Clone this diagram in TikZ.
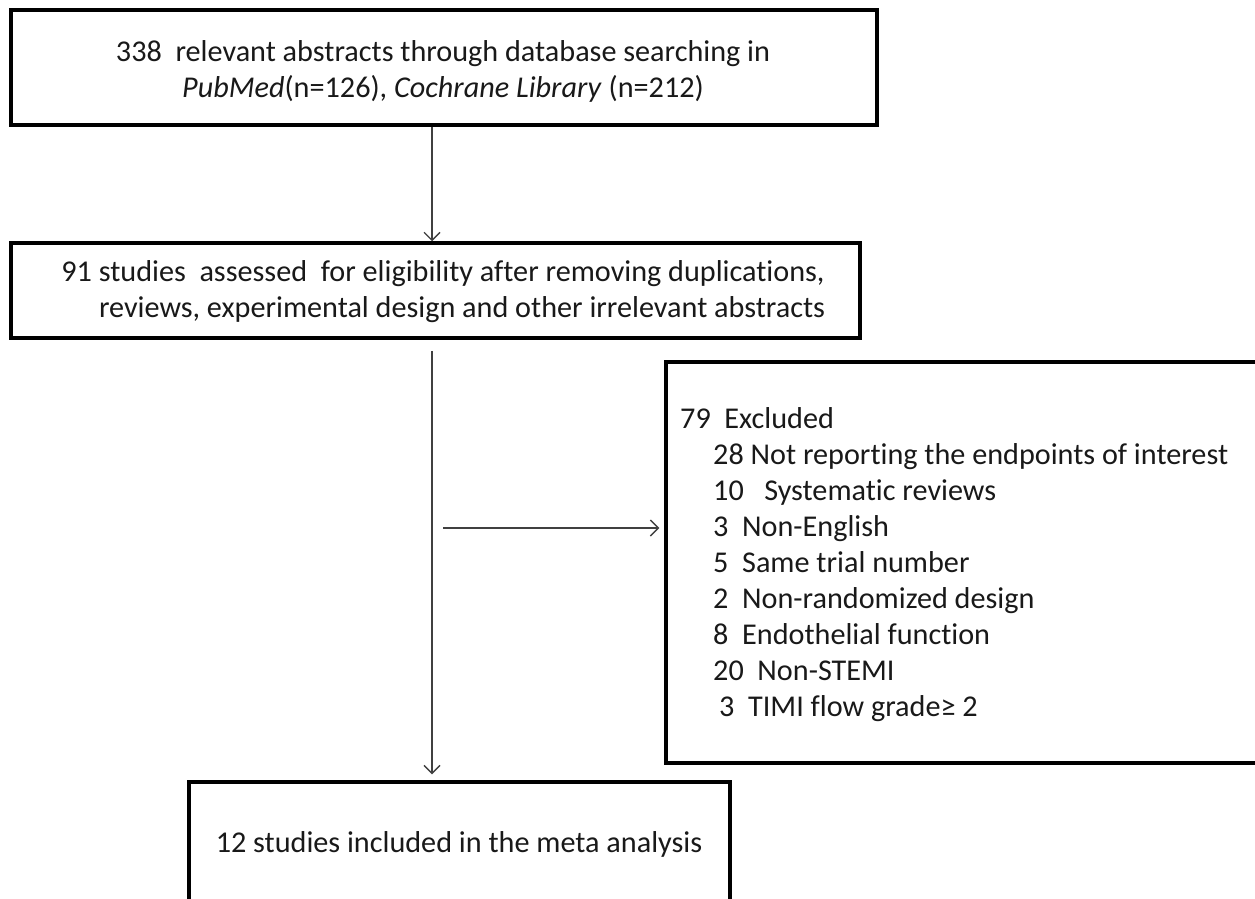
\documentclass[tikz,border=0pt]{standalone}
\usepackage{fontspec}
\setmainfont[Ligatures=NoCommon]{Carlito}
\usetikzlibrary{arrows.meta}
\begin{document}
\begin{tikzpicture}[x=1pt,y=-1pt,
  box/.style={draw=black,line width=3.5pt,fill=white,inner sep=0pt,anchor=center},
  txt/.style={inner sep=0pt,font=\fontsize{30.2}{36}\selectfont,text=black!90},
  arr/.style={draw=black!75,line width=1.4pt,-{Straight Barb[length=8pt,width=16pt,line width=1.4pt]}}]
\useasboundingbox (0,0) rectangle (1255,899);
\clip (0,0) rectangle (1255,899);
\fill[white] (0,0) rectangle (1255,899);
% boxes
\node[box,minimum width=866pt,minimum height=115pt] (b1) at (444,67.5) {};
\node[box,minimum width=849pt,minimum height=95pt] (b2) at (435.5,290.5) {};
\node[box,minimum width=600pt,minimum height=401pt] (b3) at (966,562.5) {};
\node[box,minimum width=541pt,minimum height=140pt] (b4) at (459.5,852) {};
% texts
\node[txt,align=center] (t1) at (443,71) {338\ \ relevant abstracts through database searching in\\ \textit{PubMed}(n=126), \textit{Cochrane Library} (n=212)};
\node[txt,align=center] (t2) at (443,292) {91 studies\ \ assessed\ \ for eligibility after removing duplications,\\ \hspace*{38pt}reviews, experimental design and other irrelevant abstracts};
\node[txt,align=left,anchor=north west] (t3) at (680,407) {79\ \ Excluded\\
\hspace*{33pt}28 Not reporting the endpoints of interest\\
\hspace*{33pt}10\ \ \ Systematic reviews\\
\hspace*{33pt}3\ \ Non-English\\
\hspace*{33pt}5\ \ Same trial number\\
\hspace*{33pt}2\ \ Non-randomized design\\
\hspace*{33pt}8\ \ Endothelial function\\
\hspace*{33pt}20\ \ Non-STEMI\\
\hspace*{39pt}3\ \ TIMI flow grade≥ 2};
\node[txt] (t4) at (459,844) {12 studies included in the meta analysis};
% connectors
\coordinate (axis) at (432,0);
\coordinate (hs) at (443,528);
\draw[arr] (b1.south -| axis) -- (b2.north -| axis);
\draw[arr,shorten <=11pt,shorten >=6pt] (b2.south -| axis) -- (b4.north -| axis);
\draw[arr,shorten >=5pt] (hs) -- (hs -| b3.west);
\end{tikzpicture}
\end{document}
